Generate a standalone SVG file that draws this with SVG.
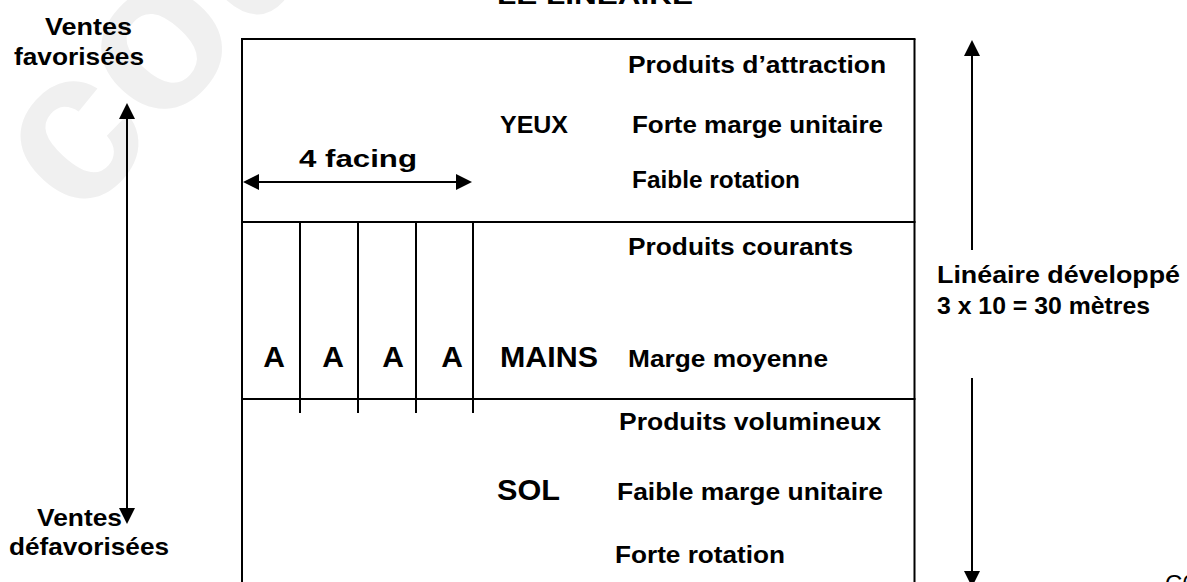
<svg xmlns="http://www.w3.org/2000/svg" width="1187" height="582" viewBox="0 0 1187 582">
  <style>
    .t { font-family: "Liberation Sans", Arial, sans-serif; font-weight: bold; font-size: 24px; fill: #000; }
    .big { font-size: 30px; }
    .wm { font-family: "Liberation Sans", Arial, sans-serif; font-weight: bold; font-size: 215px; fill: #f0f0f0; }
    .ln { stroke: #000; stroke-width: 2; fill: none; }
    .ar { stroke: #000; stroke-width: 2; fill: none; }
  </style>
  <defs>
    <marker id="ah" viewBox="0 0 16 16" refX="6" refY="8" markerWidth="16" markerHeight="16" markerUnits="userSpaceOnUse" orient="auto-start-reverse">
      <path d="M0,0 L16,8 L0,16 z" fill="#000"/>
    </marker>
  </defs>
  <rect width="1187" height="582" fill="#fff"/>
  <g id="watermark">
    <text class="wm" transform="translate(80,224) rotate(-48)">cou</text>
  </g>
  <g id="title">
    <text class="t" x="497" y="4" font-size="28" textLength="196" lengthAdjust="spacingAndGlyphs">LE LINÉAIRE</text>
  </g>
  <g id="shelf">
    <line class="ln" x1="242" y1="39" x2="242" y2="582"/>
    <line class="ln" x1="914.5" y1="39" x2="914.5" y2="582"/>
    <line class="ln" x1="241" y1="39" x2="915.5" y2="39"/>
    <line class="ln" x1="241" y1="222" x2="915.5" y2="222"/>
    <line class="ln" x1="241" y1="399" x2="915.5" y2="399"/>
  </g>
  <g id="facings">
    <line class="ln" x1="300" y1="222" x2="300" y2="413"/>
    <line class="ln" x1="358" y1="222" x2="358" y2="413"/>
    <line class="ln" x1="416" y1="222" x2="416" y2="413"/>
    <line class="ln" x1="473" y1="222" x2="473" y2="413"/>
    <text class="t big" x="274" y="367" text-anchor="middle">A</text>
    <text class="t big" x="333" y="367" text-anchor="middle">A</text>
    <text class="t big" x="393" y="367" text-anchor="middle">A</text>
    <text class="t big" x="452" y="367" text-anchor="middle">A</text>
  </g>
  <g id="yeux">
    <text class="t" x="628" y="73" textLength="258" lengthAdjust="spacingAndGlyphs">Produits d’attraction</text>
    <text class="t" x="500" y="133" font-size="22" textLength="68" lengthAdjust="spacingAndGlyphs">YEUX</text>
    <text class="t" x="632" y="133" textLength="251" lengthAdjust="spacingAndGlyphs">Forte marge unitaire</text>
    <text class="t" x="632" y="188" textLength="168" lengthAdjust="spacingAndGlyphs">Faible rotation</text>
  </g>
  <g id="mains">
    <text class="t" x="628" y="255" textLength="225" lengthAdjust="spacingAndGlyphs">Produits courants</text>
    <text class="t big" x="500" y="367" textLength="98" lengthAdjust="spacingAndGlyphs">MAINS</text>
    <text class="t" x="628" y="367" textLength="200" lengthAdjust="spacingAndGlyphs">Marge moyenne</text>
  </g>
  <g id="sol">
    <text class="t" x="619" y="430" textLength="262" lengthAdjust="spacingAndGlyphs">Produits volumineux</text>
    <text class="t big" x="497" y="500" textLength="63" lengthAdjust="spacingAndGlyphs">SOL</text>
    <text class="t" x="617" y="500" textLength="266" lengthAdjust="spacingAndGlyphs">Faible marge unitaire</text>
    <text class="t" x="615" y="563" textLength="170" lengthAdjust="spacingAndGlyphs">Forte rotation</text>
  </g>
  <g id="facing-label">
    <text class="t" x="299" y="167" font-size="28" textLength="118" lengthAdjust="spacingAndGlyphs">4 facing</text>
  </g>
  <g id="ventes">
    <text class="t" x="45" y="35" textLength="87" lengthAdjust="spacingAndGlyphs">Ventes</text>
    <text class="t" x="14" y="65" textLength="130" lengthAdjust="spacingAndGlyphs">favorisées</text>
    <text class="t" x="37" y="526" textLength="85" lengthAdjust="spacingAndGlyphs">Ventes</text>
    <text class="t" x="9" y="555" textLength="160" lengthAdjust="spacingAndGlyphs">défavorisées</text>
  </g>
  <g id="lineaire">
    <text class="t" x="937" y="283" textLength="243" lengthAdjust="spacingAndGlyphs">Linéaire développé</text>
    <text class="t" x="937" y="314" textLength="213" lengthAdjust="spacingAndGlyphs">3 x 10 = 30 mètres</text>
  </g>
  <g id="page">
    <text x="1165" y="592" font-family="Liberation Sans, Arial, sans-serif" font-size="24" fill="#000">C6</text>
  </g>
  <g id="connectors">
    <line class="ar" x1="127" y1="113" x2="127" y2="514" marker-start="url(#ah)" marker-end="url(#ah)"/>
    <line class="ar" x1="253" y1="182" x2="462" y2="182" marker-start="url(#ah)" marker-end="url(#ah)"/>
    <line class="ar" x1="972" y1="250" x2="972" y2="50" marker-end="url(#ah)"/>
    <line class="ar" x1="972" y1="378" x2="972" y2="577" marker-end="url(#ah)"/>
  </g>
</svg>
